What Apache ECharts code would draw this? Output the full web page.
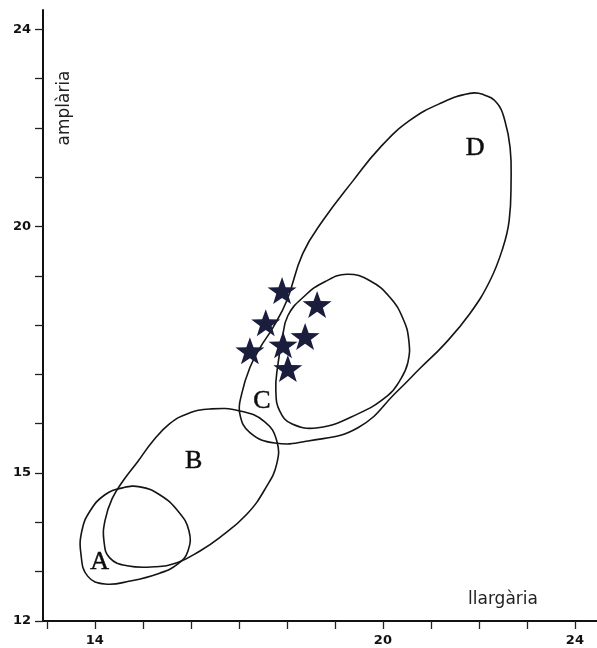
<!DOCTYPE html>
<html>
<head>
<meta charset="utf-8">
<script src="https://cdn.jsdelivr.net/npm/echarts@6/dist/echarts.min.js"></script>
<style>
html,body{margin:0;padding:0;background:#fff;}
#chart{width:597px;height:648px;}
</style>
</head>
<body>
<div id="chart"></div>
<script>
// ---- data (llargària, amplària) ----
const contourA = [[14.58,14.70],[14.94,14.72],[15.35,14.56],[15.73,14.23],[15.96,13.83],[15.94,13.42],[15.73,13.16],[15.35,12.97],[14.73,12.81],[14.21,12.75],[13.85,12.91],[13.71,13.36],[13.73,13.83],[13.90,14.23],[14.21,14.56]];
const contourB = [[16.40,16.30],[17.02,16.26],[17.54,16.04],[17.79,15.65],[17.79,15.19],[17.56,14.70],[17.17,14.17],[16.60,13.69],[16.19,13.42],[15.71,13.18],[15.25,13.10],[14.67,13.12],[14.31,13.28],[14.19,13.62],[14.21,14.03],[14.36,14.48],[14.60,14.86],[14.90,15.24],[15.21,15.65],[15.56,16.00],[15.92,16.20]];
const contourC = [[19.25,19.03],[19.73,18.90],[20.15,18.56],[20.42,18.13],[20.54,17.69],[20.52,17.24],[20.35,16.87],[20.10,16.57],[19.48,16.20],[18.65,15.92],[18.10,16.00],[17.85,16.26],[17.77,16.67],[17.81,17.18],[17.90,17.69],[18.02,18.19],[18.38,18.60],[18.79,18.88]];
const contourD = [[21.81,22.70],[22.08,22.68],[22.38,22.50],[22.54,22.15],[22.65,21.60],[22.67,20.93],[22.63,20.12],[22.50,19.57],[22.23,18.90],[21.81,18.23],[21.29,17.62],[20.77,17.12],[20.31,16.67],[19.48,15.92],[18.44,15.65],[17.75,15.61],[17.23,15.82],[17.02,16.20],[17.06,16.61],[17.23,17.14],[17.44,17.54],[17.71,17.95],[18.00,18.50],[18.33,19.45],[18.75,20.12],[19.38,20.93],[19.94,21.60],[20.56,22.15],[21.25,22.52]];
const starPoints = [[17.90,18.70],[18.63,18.42],[17.56,18.05],[18.38,17.77],[17.92,17.60],[17.23,17.48],[18.02,17.12]];
const regionLabels = ['A','B','C','D'];
const regionLabelPos = [[14.10,13.20],[16.06,15.25],[17.48,16.45],[21.92,21.58]];
const xTicks = [13,14,15,16,17,18,19,20,21,22,23,24];
const xTickLabels = [14,20,24];
const yTicks = [12,13,14,15,16,17,18,19,20,21,22,23,24];
const yTickLabels = [12,15,20,24];
const xTitle = 'llargària';
const yTitle = 'amplària';

const chart = echarts.init(document.getElementById('chart'), null, {renderer:'canvas'});

function contourSeries(name, pts){
  return {
    type:'custom', name:name, data:pts, silent:true, clip:false,
    encode:{x:0,y:1},
    renderItem:function(params, api){
      if(params.dataIndexInside !== 0) return;
      const n = params.dataInsideLength;
      const points = [];
      for(let i=0;i<n;i++){ points.push(api.coord([api.value(0,i), api.value(1,i)])); }
      return {type:'polygon', shape:{points:points, smooth:0.45},
        style:{fill:'none', stroke:'#141414', lineWidth:1.6}};
    }
  };
}

const starPath = 'path://M50,0 L61.76,33.82 L97.55,34.55 L69.02,56.18 L79.39,90.45 L50,70 L20.61,90.45 L30.98,56.18 L2.45,34.55 L38.24,33.82 Z';

const option = {
  backgroundColor:'#ffffff',
  animation:false,
  grid:{left:43, right:0, top:10, bottom:27, containLabel:false},
  xAxis:{
    type:'value', min:12.92, max:24.46,
    axisLine:{show:true, onZero:false, lineStyle:{color:'#111', width:2}},
    axisTick:{show:true, customValues:xTicks, length:8, lineStyle:{color:'#222', width:1.3}},
    axisLabel:{customValues:xTickLabels, color:'#111', fontFamily:'DejaVu Sans', fontWeight:'bold', fontSize:13, margin:13},
    splitLine:{show:false}
  },
  yAxis:{
    type:'value', min:12, max:24.39,
    axisLine:{show:true, onZero:false, lineStyle:{color:'#111', width:2}},
    axisTick:{show:true, customValues:yTicks, length:8, lineStyle:{color:'#222', width:1.3}},
    axisLabel:{customValues:yTickLabels, color:'#111', fontFamily:'DejaVu Sans', fontWeight:'bold', fontSize:13, margin:12},
    splitLine:{show:false}
  },
  graphic:[
    {type:'text', x:65, y:108, rotation:Math.PI/2,
      style:{text:yTitle, fill:'#222', font:'17px "DejaVu Sans"', textAlign:'center', textVerticalAlign:'middle'}},
    {type:'text', x:503, y:600,
      style:{text:xTitle, fill:'#222', font:'17px "DejaVu Sans"', textAlign:'center', textVerticalAlign:'middle'}}
  ],
  series:[
    contourSeries('A', contourA),
    contourSeries('B', contourB),
    contourSeries('C', contourC),
    contourSeries('D', contourD),
    {
      type:'scatter', name:'labels', silent:true, symbolSize:1,
      itemStyle:{opacity:1, color:'rgba(0,0,0,0)'},
      data:regionLabels.map((t,i)=>({value:regionLabelPos[i], name:t})),
      label:{show:true, position:'inside', formatter:'{b}', color:'#0d0d0d', opacity:1, fontFamily:'Liberation Serif', fontSize:26, textBorderColor:'#0d0d0d', textBorderWidth:0.5}
    },
    {
      type:'scatter', name:'stars', silent:true, symbol:starPath, symbolSize:[29,27], z:5,
      itemStyle:{color:'#1a1d3c', opacity:1},
      data:starPoints
    }
  ]
};
chart.setOption(option);
</script>
</body>
</html>
